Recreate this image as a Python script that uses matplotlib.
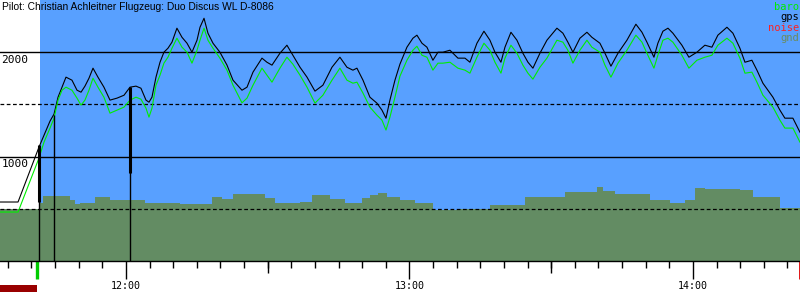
import numpy as np
import pandas as pd
import matplotlib
matplotlib.use("Agg")
import matplotlib.pyplot as plt
from matplotlib.patches import Rectangle

# --- data ---
title = "Pilot: Christian Achleitner Flugzeug: Duo Discus WL D-8086"

trace_time = [
    "11:33:20", "11:37:09", "11:41:35", "11:42:39", "11:43:55", "11:44:46", "11:45:37", "11:46:28",
    "11:47:18", "11:48:34", "11:49:38", "11:50:29", "11:51:19", "11:52:10", "11:53:01", "11:54:04",
    "11:55:20", "11:56:37", "11:58:06", "11:59:35", "12:00:51", "12:02:07", "12:03:10", "12:04:14",
    "12:04:52", "12:05:30", "12:06:21", "12:07:12", "12:08:02", "12:08:53", "12:09:44", "12:10:47",
    "12:11:51", "12:12:55", "12:13:58", "12:15:02", "12:15:40", "12:16:31", "12:17:21", "12:18:25",
    "12:19:53", "12:21:23", "12:22:39", "12:24:33", "12:25:37", "12:26:53", "12:28:47", "12:29:50",
    "12:30:54", "12:32:35", "12:34:04", "12:35:20", "12:36:50", "12:38:19", "12:40:00", "12:41:41",
    "12:43:36", "12:45:17", "12:46:46", "12:48:02", "12:48:53", "12:50:10", "12:51:38", "12:53:07",
    "12:54:11", "12:55:02", "12:55:52", "12:56:56", "12:57:59", "12:59:28", "13:00:44", "13:01:35",
    "13:02:39", "13:03:42", "13:04:58", "13:06:02", "13:07:05", "13:08:34", "13:10:16", "13:11:45",
    "13:12:48", "13:14:17", "13:15:46", "13:17:02", "13:18:06", "13:19:22", "13:20:13", "13:21:29",
    "13:22:45", "13:24:01", "13:25:05", "13:26:08", "13:27:37", "13:29:06", "13:31:13", "13:32:29",
    "13:33:32", "13:34:36", "13:36:05", "13:37:34", "13:38:37", "13:40:19", "13:41:23", "13:42:39",
    "13:44:08", "13:46:02", "13:47:56", "13:49:13", "13:50:16", "13:51:45", "13:52:35", "13:53:39",
    "13:54:43", "13:55:46", "13:57:40", "13:59:09", "14:00:51", "14:02:32", "14:04:01", "14:05:17",
    "14:07:12", "14:08:28", "14:09:57", "14:11:01", "14:12:29", "14:13:33", "14:14:49", "14:16:56",
    "14:18:25", "14:19:28", "14:21:10", "14:22:39",
]
gps_alt = [
    565, 565, 1091, 1206, 1340, 1407, 1569, 1665,
    1761, 1732, 1636, 1617, 1675, 1751, 1847, 1761,
    1665, 1541, 1560, 1588, 1665, 1675, 1655, 1541,
    1521, 1569, 1761, 1904, 2000, 2038, 2096, 2230,
    2143, 2086, 2000, 2115, 2239, 2325, 2182, 2086,
    2000, 1876, 1732, 1636, 1665, 1809, 1943, 1904,
    1876, 1990, 2067, 1971, 1856, 1761, 1627, 1684,
    1856, 1952, 1856, 1828, 1847, 1732, 1569, 1512,
    1445, 1368, 1541, 1732, 1885, 2048, 2134, 2163,
    2086, 2048, 1923, 2000, 2000, 2019, 1943, 1943,
    1904, 2086, 2201, 2115, 2000, 1904, 2048, 2191,
    2115, 1990, 1904, 1847, 1990, 2115, 2230, 2182,
    2096, 2000, 2134, 2191, 2143, 2086, 1990, 1866,
    1990, 2115, 2268, 2191, 2096, 1952, 2086, 2201,
    2230, 2182, 2067, 1952, 2000, 2067, 2048, 2163,
    2239, 2182, 2038, 1904, 1923, 1828, 1703, 1569,
    1445, 1368, 1368, 1234,
]
baro_alt = [
    469, 469, 986, 1139, 1273, 1368, 1541, 1636,
    1665, 1636, 1560, 1493, 1541, 1636, 1751, 1665,
    1569, 1416, 1445, 1474, 1541, 1569, 1550, 1464,
    1378, 1464, 1684, 1780, 1895, 1952, 2038, 2134,
    2048, 2000, 1895, 2019, 2115, 2230, 2115, 2038,
    1943, 1828, 1684, 1515, 1560, 1684, 1847, 1780,
    1713, 1847, 1952, 1885, 1780, 1665, 1512, 1588,
    1732, 1847, 1732, 1703, 1713, 1608, 1474, 1397,
    1349, 1254, 1378, 1569, 1770, 1923, 2019, 2057,
    1971, 1952, 1828, 1895, 1895, 1904, 1847, 1828,
    1799, 1952, 2086, 2019, 1904, 1799, 1943, 2067,
    1990, 1876, 1799, 1742, 1856, 1943, 2115, 2096,
    2019, 1895, 2019, 2115, 2048, 2000, 1876, 1761,
    1895, 2019, 2163, 2096, 1990, 1847, 1971, 2115,
    2134, 2096, 1971, 1847, 1923, 1952, 1971, 2067,
    2134, 2086, 1943, 1799, 1809, 1713, 1588, 1474,
    1349, 1273, 1273, 1139,
]

gnd_time = [
    "11:33:20", "11:41:23", "11:41:48", "11:42:26", "11:47:43", "11:48:09", "11:49:13", "11:50:16",
    "11:53:26", "11:56:37", "12:04:01", "12:11:26", "12:18:12", "12:20:19", "12:22:39", "12:29:25",
    "12:31:32", "12:36:50", "12:39:22", "12:43:10", "12:46:21", "12:49:57", "12:51:38", "12:53:20",
    "12:55:14", "12:57:59", "13:01:10", "13:04:58", "13:10:41", "13:17:02", "13:24:26", "13:28:41",
    "13:32:55", "13:39:41", "13:40:57", "13:43:29", "13:50:54", "13:55:08", "13:58:19", "14:00:25",
    "14:02:32", "14:09:57", "14:12:42", "14:18:25", "14:22:39",
]
gnd_alt = [
    498, 498, 555, 622, 622, 584, 545, 555,
    612, 584, 555, 545, 612, 593, 641, 603,
    555, 565, 632, 593, 555, 603, 632, 651,
    612, 584, 555, 488, 498, 536, 612, 612,
    660, 708, 670, 641, 584, 555, 584, 699,
    689, 679, 612, 507, 498,
]

# markers: vertical lines (time, top altitude), thick part (time, top, bottom)
marker_time = ["11:41:35", "11:44:46", "12:00:51"]
marker_top = [1091, 1397, 1665]
thick_time = ["11:41:35", "12:00:51"]
thick_top = [1110, 1665]
thick_bottom = [565, 842]

view_start, view_end = "11:33:20", "14:22:40"
takeoff, landing = "11:41:48", "14:22:35"
takeoff_tick = "11:41:16"
solid_levels = [1000, 2000]
dashed_levels = [500, 1500]

legend_names = ["baro", "gps", "noise", "gnd"]
legend_colors = ["#00ee00", "black", "#ff2020", "#6b8c5e"]

SKY = "#58a0ff"
GND = "#638c63"


def hours(ts):
    return np.asarray(pd.to_timedelta(ts).total_seconds()) / 3600.0


t_trace = hours(trace_time)
t_gnd = hours(gnd_time)
x0, x1 = hours([view_start, view_end])
t_off, t_land, t_tick = hours([takeoff, landing, takeoff_tick])

fig = plt.figure(figsize=(8, 3), dpi=100)
ax = fig.add_axes([0, 0.13, 1, 0.87])
ax.set_xlim(x0, x1)
ax.set_ylim(0, 2500)

ax.axvspan(t_off, x1, color=SKY, lw=0, zorder=0)
ax.fill_between(t_gnd, 0, gnd_alt, step="post", color=GND, lw=0, zorder=1)

for lvl in solid_levels:
    ax.axhline(lvl, color="black", lw=1.0, zorder=2)
for lvl in dashed_levels:
    ax.axhline(lvl, color="black", lw=0.9, ls=(0, (3, 2)), zorder=2)

ax.plot(t_trace, gps_alt, color="black", lw=0.8, zorder=3)
ax.plot(t_trace, baro_alt, color="#00ee00", lw=0.8, zorder=4)

ax.vlines(hours(marker_time), 0, marker_top, color="black", lw=1.0, zorder=5)
ax.vlines(hours(thick_time), thick_bottom, thick_top, color="black", lw=2.2, zorder=5)

# y labels written under the solid lines
for lvl in solid_levels:
    ax.annotate(str(lvl), (0, lvl), xycoords=("axes fraction", "data"),
                xytext=(1, -2), textcoords="offset points", ha="left", va="top",
                fontsize=8, family="DejaVu Sans Mono", zorder=6)

# x axis: hours major, 5 minutes minor, half hours extra
for s in ["top", "left", "right"]:
    ax.spines[s].set_visible(False)
ax.spines["bottom"].set_linewidth(1.0)
ax.set_yticks([])
ax.set_xticks([12, 13, 14])
ax.set_xticklabels(["12:00", "13:00", "14:00"], family="DejaVu Sans Mono", fontsize=7.2)
ax.set_xticks(np.arange(11 + 35 / 60, x1, 5 / 60), minor=True)
ax.tick_params(axis="x", which="major", length=13, width=1, pad=1.5)
ax.tick_params(axis="x", which="minor", length=5, width=1)
half = [12.5, 13.5]
ax.vlines(half, -12 / 261, 0, transform=ax.get_xaxis_transform(), color="black",
          lw=1, clip_on=False)

# takeoff / landing marks
ax.vlines([t_tick], -18 / 261, 0, transform=ax.get_xaxis_transform(), color="#00cc00",
          lw=2.4, clip_on=False)
ax.vlines([t_land + 0.0008], -18 / 261, 0, transform=ax.get_xaxis_transform(), color="#dd0000",
          lw=2.0, clip_on=False)
ax.add_patch(Rectangle((x0, -31 / 261), t_tick - x0, 7 / 261, transform=ax.get_xaxis_transform(),
                       color="#990000", lw=0, clip_on=False))
ax.add_patch(Rectangle((t_land, -31 / 261), x1 - t_land, 7 / 261, transform=ax.get_xaxis_transform(),
                       color="#990000", lw=0, clip_on=False))

fig.text(2 / 800, 1 - 2 / 300, title, ha="left", va="top", fontsize=7.4, family="Liberation Sans")

for i, (name, col) in enumerate(zip(legend_names, legend_colors)):
    fig.text(1 - 1 / 800, 1 - (2 + 10.3 * i) / 300, name, ha="right", va="top", color=col,
             fontsize=7.5, family="DejaVu Sans Mono")

fig.savefig("out.png", dpi=100)
